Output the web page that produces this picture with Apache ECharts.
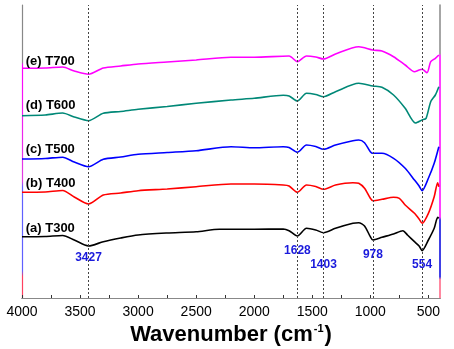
<!DOCTYPE html>
<html>
<head>
<meta charset="utf-8">
<script src="https://cdn.jsdelivr.net/npm/echarts@6/dist/echarts.min.js"></script>
<style>
  html, body { margin: 0; padding: 0; background: #fff; }
  #main { width: 454px; height: 349px; }
</style>
</head>
<body>
<div id="main"></div>
<script>
// FTIR spectra, [wavenumber, transmittance (a.u., offset)]
var t300 = [[4000,61.3],[3800,61.5],[3650,62.5],[3550,58],[3427,52],[3300,56.3],[3150,60],[3000,63],[2750,65],[2500,66.3],[2300,68.7],[2000,68.7],[1750,69],[1700,67.3],[1628,62],[1550,69.7],[1470,68],[1403,65.3],[1300,69.7],[1150,74.7],[1100,75.3],[1050,72],[1000,61.3],[978,58],[900,60.7],[800,64],[720,67.3],[680,63],[620,56.3],[580,52],[554,47.3],[500,58],[450,69.7],[420,80.7],[410,79.7]];
var t400 = [[4000,105.7],[3800,106],[3650,107.5],[3550,101],[3427,94],[3300,103],[3150,105],[3000,107.3],[2750,109],[2500,111.3],[2200,114],[2000,114],[1750,113],[1700,112],[1628,105.7],[1550,113],[1470,111.5],[1403,108.7],[1300,113],[1150,115.3],[1100,114.7],[1050,109.7],[1000,99.7],[978,97.3],[900,98.7],[800,100.7],[750,99.7],[700,93],[620,84.7],[580,79],[554,74.7],[500,84.7],[450,101.3],[420,115.3],[410,111.3]];
var t500 = [[4000,139],[3800,139.5],[3650,140.8],[3550,136],[3427,131.3],[3300,138.7],[3150,141],[3000,143.7],[2750,145.5],[2500,147.3],[2200,151.3],[2000,150.3],[1750,151.3],[1700,150.5],[1628,145.7],[1550,153],[1470,151.5],[1403,148.7],[1300,153],[1150,157.3],[1100,158],[1050,155.3],[1000,146.3],[978,144.7],[900,144.7],[800,139.7],[700,129.7],[620,118],[580,112],[554,107.3],[500,119.7],[450,134.7],[410,151.3]];
var t600 = [[4000,182.3],[3800,183],[3650,185],[3550,181],[3427,177.3],[3300,184.7],[3150,186.5],[3000,188.7],[2750,191.5],[2500,194.7],[2200,198],[2000,199.7],[1750,202.7],[1700,202],[1628,197],[1550,204.7],[1470,203.5],[1403,201.3],[1300,206.3],[1100,214.7],[978,212],[900,210.7],[800,203],[700,189.7],[612,175],[554,178],[520,179.7],[480,196.3],[440,203],[410,211.3]];
var t700 = [[4000,229.7],[3800,230],[3650,231],[3550,227],[3427,223.7],[3300,230],[3150,232],[3000,234],[2750,236],[2500,238],[2200,240.7],[2000,240.7],[1700,242],[1628,236.3],[1550,242],[1470,241],[1403,239],[1300,244],[1100,251.3],[978,248],[900,247],[800,241.3],[700,233],[620,226.3],[580,228],[554,228.7],[512,225.3],[480,236.3],[440,239.7],[410,243]];

var seriesNames = ['(a) T300', '(b) T400', '(c) T500', '(d) T600', '(e) T700'];
var seriesColors = ['#000000', '#ff0000', '#0000ff', '#008877', '#ff00ff'];
var seriesData = [t300, t400, t500, t600, t700];
// y position of each sample label
var nameLabelY = [70, 115, 149, 193, 237];

var peaks = [3427, 1628, 1403, 978, 554];
var peakLabelY = [40, 47, 33, 43.7, 33.7];

var xTicks = [4000, 3500, 3000, 2500, 2000, 1500, 1000, 500];
var xMinorTicks = [3750, 3250, 2750, 2250, 1750, 1250, 750];

var FONT = 'Liberation Sans, Arial';
var myChart = echarts.init(document.getElementById('main'));

var series = seriesData.map(function (d, i) {
    return {
        name: seriesNames[i],
        type: 'line',
        data: d,
        showSymbol: false,
        smooth: 0.25,
        lineStyle: { color: seriesColors[i], width: 1.6 },
        z: 3,
        markPoint: {
            symbol: 'circle',
            symbolSize: 0,
            data: [{
                coord: [3968, nameLabelY[i]],
                label: {
                    show: true, position: 'right', distance: 0,
                    formatter: seriesNames[i],
                    color: '#000', fontSize: 13, fontWeight: 'bold',
                    fontFamily: FONT
                }
            }]
        }
    };
});

// dotted guide lines and peak labels on the first series
series[0].markLine = {
    silent: true,
    symbol: ['none', 'none'],
    label: { show: false },
    lineStyle: { color: '#444', type: [2, 2], width: 1 },
    data: peaks.map(function (p) { return { xAxis: p }; })
};
series[0].markPoint.data = series[0].markPoint.data.concat(peaks.map(function (p, i) {
    return {
        coord: [p, peakLabelY[i]],
        label: {
            show: true, position: 'inside',
            formatter: String(p),
            color: '#1a1adc', fontSize: 12, fontWeight: 'bold',
            fontFamily: FONT
        }
    };
}));

myChart.setOption({
    animation: false,
    grid: { left: 22, right: 14, top: 5, bottom: 51, outerBoundsMode: 'none', containLabel: false },
    xAxis: [
        {
            type: 'value',
            min: 400,
            max: 4000,
            inverse: true,
            axisLine: { show: true, lineStyle: { color: '#555', width: 1 } },
            axisTick: {
                show: true, inside: true, length: 3,
                customValues: xTicks.concat(xMinorTicks),
                lineStyle: { color: '#333' }
            },
            axisLabel: {
                customValues: xTicks,
                formatter: function (v) { return String(v); },
                color: '#000', fontSize: 14, margin: 7,
                fontFamily: FONT
            },
            splitLine: { show: false },
            name: '{b|Wavenumber (cm}{s|-1}{b|)}',
            nameLocation: 'middle',
            nameGap: 25,
            nameTextStyle: {
                rich: {
                    b: { fontSize: 22, fontWeight: 'bold', color: '#000', fontFamily: FONT },
                    s: { fontSize: 11, fontWeight: 'bold', color: '#000', fontFamily: FONT, padding: [0, 1, 12, 1] }
                }
            }
        },
        {
            type: 'value',
            position: 'top',
            min: 400,
            max: 4000,
            inverse: true,
            axisLine: { show: true, lineStyle: { color: '#888', width: 1 } },
            axisTick: { show: false },
            axisLabel: { show: false },
            splitLine: { show: false }
        }
    ],
    yAxis: [
        {
            type: 'value',
            min: 0,
            max: 293,
            axisLine: {
                show: true,
                lineStyle: {
                    width: 1.2,
                    color: new echarts.graphic.LinearGradient(0, 0, 0, 1, [
                        { offset: 0, color: '#888' },
                        { offset: 0.2, color: '#888' },
                        { offset: 0.21, color: '#ff00ff' },
                        { offset: 0.6, color: '#e040e0' },
                        { offset: 0.62, color: '#6060ff' },
                        { offset: 0.9, color: '#6060ff' },
                        { offset: 0.92, color: '#ff4060' },
                        { offset: 1, color: '#ff4060' }
                    ])
                }
            },
            axisTick: { show: false },
            axisLabel: { show: false },
            splitLine: { show: false }
        },
        {
            type: 'value',
            position: 'right',
            min: 0,
            max: 293,
            axisLine: {
                show: true,
                lineStyle: {
                    width: 1.5,
                    color: new echarts.graphic.LinearGradient(0, 0, 0, 1, [
                        { offset: 0, color: '#888' },
                        { offset: 0.17, color: '#888' },
                        { offset: 0.18, color: '#ff00ff' },
                        { offset: 0.72, color: '#ff00ff' },
                        { offset: 0.73, color: '#0000dd' },
                        { offset: 0.92, color: '#0000dd' },
                        { offset: 0.93, color: '#ff6080' },
                        { offset: 1, color: '#ff6080' }
                    ])
                }
            },
            axisTick: { show: false },
            axisLabel: { show: false },
            splitLine: { show: false }
        }
    ],
    series: series
});
</script>
</body>
</html>
